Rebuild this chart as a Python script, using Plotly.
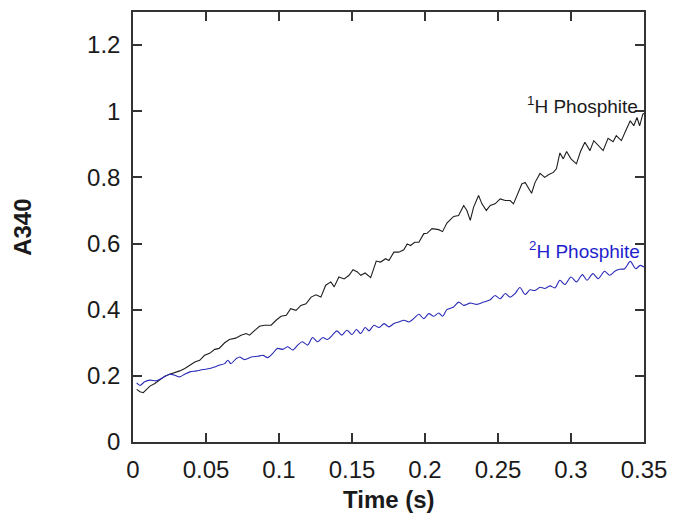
import plotly.graph_objects as go

# 1H phosphite trace (black)
t_h1 = [0.0025, 0.0048, 0.007, 0.0093, 0.0116, 0.015, 0.0184, 0.0218, 0.0252, 0.0286,
        0.032, 0.0355, 0.0389, 0.0423, 0.0457, 0.049, 0.0525, 0.056, 0.059, 0.0628,
        0.066, 0.0703, 0.074, 0.0775, 0.0798, 0.0832, 0.0866, 0.09, 0.0946, 0.098,
        0.1014, 0.105, 0.108, 0.1117, 0.115, 0.1185, 0.122, 0.1253, 0.1287, 0.132,
        0.1355, 0.1378, 0.141, 0.1446, 0.148, 0.1507, 0.1537, 0.156, 0.159, 0.1628,
        0.165, 0.1666, 0.1696, 0.173, 0.1753, 0.1787, 0.182, 0.1855, 0.1878, 0.19,
        0.193, 0.1958, 0.1992, 0.2014, 0.2048, 0.2094, 0.212, 0.215, 0.2196, 0.223,
        0.2265, 0.2287, 0.231, 0.2333, 0.2367, 0.239, 0.242, 0.2447, 0.248, 0.2515,
        0.255, 0.2583, 0.2606, 0.2633, 0.2663, 0.2686, 0.2708, 0.273, 0.2754, 0.2788,
        0.282, 0.2845, 0.2879, 0.29, 0.2924, 0.2947, 0.297, 0.3, 0.3037, 0.3065,
        0.3095, 0.313, 0.3156, 0.3186, 0.322, 0.3254, 0.3288, 0.331, 0.3345, 0.338,
        0.3406, 0.343, 0.3452, 0.347, 0.3492, 0.3515]
a_h1 = [0.159, 0.152, 0.149, 0.159, 0.169, 0.177, 0.187, 0.199, 0.205, 0.209,
        0.215, 0.222, 0.232, 0.242, 0.247, 0.262, 0.268, 0.280, 0.283, 0.300,
        0.310, 0.314, 0.323, 0.328, 0.323, 0.338, 0.350, 0.353, 0.353, 0.368,
        0.380, 0.383, 0.403, 0.398, 0.413, 0.418, 0.438, 0.445, 0.438, 0.474,
        0.484, 0.469, 0.499, 0.493, 0.504, 0.521, 0.514, 0.504, 0.511, 0.497,
        0.524, 0.547, 0.544, 0.554, 0.549, 0.574, 0.574, 0.581, 0.599, 0.594,
        0.604, 0.604, 0.630, 0.631, 0.645, 0.642, 0.636, 0.662, 0.682, 0.685,
        0.715, 0.700, 0.670, 0.710, 0.745, 0.720, 0.700, 0.715, 0.720, 0.735,
        0.730, 0.730, 0.720, 0.750, 0.780, 0.785, 0.770, 0.752, 0.785, 0.812,
        0.800, 0.808, 0.815, 0.826, 0.874, 0.856, 0.878, 0.856, 0.841, 0.878,
        0.906, 0.881, 0.911, 0.896, 0.881, 0.918, 0.908, 0.926, 0.911, 0.946,
        0.971, 0.956, 0.981, 0.956, 0.991, 0.998]

# 2H phosphite trace (blue)
t_h2 = [0.0025, 0.0048, 0.008, 0.0116, 0.016, 0.0207, 0.025, 0.0286, 0.032, 0.0355,
        0.039, 0.0434, 0.048, 0.0525, 0.056, 0.059, 0.0628, 0.065, 0.067, 0.0707,
        0.073, 0.0764, 0.081, 0.0855, 0.089, 0.0923, 0.0957, 0.099, 0.1025, 0.106,
        0.1094, 0.1128, 0.116, 0.1196, 0.123, 0.1264, 0.13, 0.133, 0.1366, 0.1396,
        0.143, 0.1465, 0.15, 0.153, 0.156, 0.159, 0.1617, 0.165, 0.1685, 0.172,
        0.1753, 0.1787, 0.182, 0.1855, 0.189, 0.1923, 0.1958, 0.1992, 0.2026, 0.206,
        0.2094, 0.212, 0.215, 0.2196, 0.223, 0.2265, 0.231, 0.2355, 0.24, 0.2447,
        0.248, 0.2515, 0.255, 0.2583, 0.2617, 0.265, 0.2686, 0.272, 0.2754, 0.2788,
        0.282, 0.2856, 0.289, 0.2924, 0.2958, 0.3, 0.3037, 0.3078, 0.311, 0.315,
        0.3186, 0.323, 0.3265, 0.33, 0.3334, 0.3368, 0.3406, 0.3443, 0.3474, 0.35]
a_h2 = [0.179, 0.171, 0.182, 0.187, 0.185, 0.195, 0.205, 0.202, 0.197, 0.205,
        0.212, 0.215, 0.219, 0.222, 0.227, 0.232, 0.237, 0.247, 0.237, 0.252,
        0.257, 0.249, 0.257, 0.259, 0.262, 0.255, 0.268, 0.283, 0.280, 0.288,
        0.278, 0.293, 0.303, 0.293, 0.316, 0.303, 0.316, 0.310, 0.323, 0.336,
        0.323, 0.338, 0.325, 0.340, 0.328, 0.346, 0.336, 0.353, 0.346, 0.358,
        0.348, 0.358, 0.363, 0.368, 0.363, 0.373, 0.386, 0.373, 0.388, 0.380,
        0.390, 0.380, 0.400, 0.408, 0.423, 0.413, 0.420, 0.416, 0.423, 0.430,
        0.443, 0.433, 0.449, 0.438, 0.449, 0.467, 0.446, 0.460, 0.458, 0.468,
        0.464, 0.472, 0.466, 0.489, 0.476, 0.499, 0.484, 0.506, 0.489, 0.509,
        0.494, 0.516, 0.504, 0.516, 0.522, 0.524, 0.546, 0.524, 0.534, 0.529]

x_ticks = [0, 0.05, 0.1, 0.15, 0.2, 0.25, 0.3, 0.35]
x_labels = ["0", "0.05", "0.1", "0.15", "0.2", "0.25", "0.3", "0.35"]
y_ticks = [0, 0.2, 0.4, 0.6, 0.8, 1.0, 1.2]
y_labels = ["0", "0.2", "0.4", "0.6", "0.8", "1", "1.2"]

FONT = "Liberation Sans, Arial, sans-serif"
BLUE_LINE = "#2a2ab8"
BLUE_TEXT = "#1e1ecc"

fig = go.Figure()
fig.add_trace(go.Scatter(x=t_h1, y=a_h1, mode="lines",
                         line=dict(color="#1e1e1e", width=1.1), showlegend=False))
fig.add_trace(go.Scatter(x=t_h2, y=a_h2, mode="lines",
                         line=dict(color=BLUE_LINE, width=1.1, shape="spline", smoothing=0.8),
                         showlegend=False))

axis_common = dict(showgrid=False, zeroline=False, showline=True, linecolor="#333333",
                   linewidth=1.5, mirror="allticks", ticks="inside", ticklen=9,
                   tickwidth=1.5, tickcolor="#333333",
                   tickfont=dict(family=FONT, size=24, color="#1a1a1a"))

fig.update_xaxes(range=[0, 0.35], tickvals=x_ticks, ticktext=x_labels,
                 ticklabelstandoff=5, **axis_common)
fig.update_yaxes(range=[0, 1.3], tickvals=y_ticks, ticktext=y_labels,
                 ticklabelstandoff=6, **axis_common)

fig.add_annotation(xref="paper", yref="paper", x=-0.2175, y=0.5, text="<b>A340</b>",
                   textangle=-90, showarrow=False, xanchor="center", yanchor="middle",
                   font=dict(family=FONT, size=24, color="#1a1a1a"))
fig.add_annotation(xref="paper", yref="paper", x=0.5, y=-0.134, text="<b>Time (s)</b>",
                   showarrow=False, xanchor="center", yanchor="middle",
                   font=dict(family=FONT, size=24, color="#1a1a1a"))

fig.add_annotation(x=0.3475, y=1.02, text="<sup>1</sup>H Phosphite", showarrow=False,
                   xanchor="right", yanchor="middle",
                   font=dict(family=FONT, size=19, color="#1a1a1a"))
fig.add_annotation(x=0.3485, y=0.58, text="<sup>2</sup>H Phosphite", showarrow=False,
                   xanchor="right", yanchor="middle",
                   font=dict(family=FONT, size=19, color=BLUE_TEXT))

fig.update_layout(width=677, height=516, margin=dict(l=133, r=29, t=10, b=74),
                  plot_bgcolor="white", paper_bgcolor="white")

fig.write_html("out.html")
